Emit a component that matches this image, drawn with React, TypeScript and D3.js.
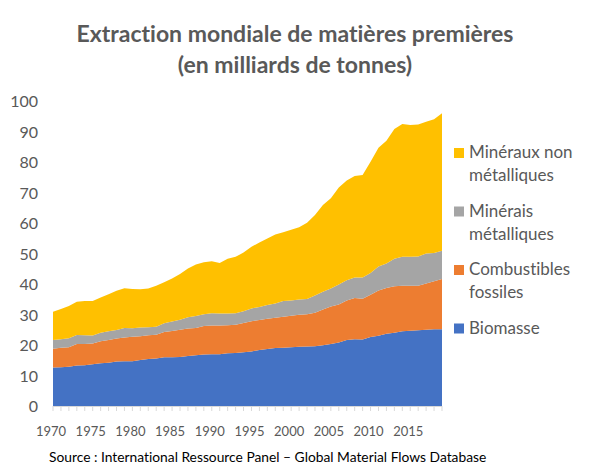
import React, {useEffect, useRef} from "react";
import * as d3 from "d3";

const years = d3.range(1970, 2020);

const biomasse = [
	12.6, 12.7, 12.9, 13.3, 13.4, 13.7, 14.0, 14.2, 14.6, 14.7,
	14.7, 15.1, 15.4, 15.6, 16.0, 16.0, 16.1, 16.4, 16.6, 16.9,
	17.0, 17.0, 17.3, 17.4, 17.6, 17.9, 18.4, 18.7, 19.0, 19.1,
	19.3, 19.4, 19.5, 19.6, 19.9, 20.3, 20.8, 21.6, 21.9, 21.8,
	22.6, 23.0, 23.7, 24.0, 24.5, 24.7, 24.8, 25.0, 25.2, 25.2,
];

const combustibles = [
	6.2, 6.4, 6.4, 7.0, 6.9, 6.8, 7.2, 7.4, 7.5, 7.8,
	8.0, 7.8, 7.8, 7.8, 8.3, 8.6, 8.9, 9.0, 9.0, 9.3,
	9.4, 9.4, 9.2, 9.2, 9.6, 9.9, 9.8, 9.9, 9.9, 10.2,
	10.3, 10.5, 10.6, 11.0, 11.7, 12.3, 12.5, 13.0, 13.5, 13.4,
	13.9, 14.9, 15.0, 15.3, 14.9, 14.7, 14.6, 15.2, 15.7, 16.4,
];

const metalliques = [
	2.8, 2.8, 2.9, 3.0, 2.9, 2.6, 2.8, 2.9, 2.8, 3.1,
	2.8, 2.8, 2.6, 2.6, 2.8, 3.1, 3.3, 3.7, 3.9, 3.9,
	4.0, 3.9, 3.8, 3.8, 3.9, 4.2, 4.3, 4.5, 4.7, 5.1,
	5.0, 5.0, 5.0, 5.6, 5.9, 5.9, 6.5, 6.6, 6.7, 6.9,
	7.1, 7.8, 8.0, 9.0, 9.5, 9.5, 9.6, 9.8, 9.3, 9.3,
];

const nonMetalliques = [
	9.3, 9.9, 10.6, 10.9, 11.2, 11.3, 11.6, 12.1, 12.9, 13.0,
	12.9, 12.6, 12.7, 13.4, 13.5, 14.1, 15.0, 16.0, 16.9, 17.0,
	17.1, 16.6, 18.0, 18.5, 19.2, 20.2, 21.1, 21.8, 22.6, 22.6,
	23.2, 23.7, 25.0, 26.4, 28.4, 29.6, 31.8, 32.7, 33.3, 33.6,
	36.5, 39.0, 40.3, 42.5, 43.6, 43.2, 43.3, 43.2, 43.8, 45.1,
];

const seriesKeys = ["biomasse", "combustibles", "metalliques", "nonMetalliques"];
const seriesColors = ["#4472C4", "#ED7D31", "#A5A5A5", "#FFC000"];

// legend is listed top to bottom, i.e. reverse of the stack
const legendLabels = [
	["Minéraux non", "métalliques"],
	["Minérais", "métalliques"],
	["Combustibles", "fossiles"],
	["Biomasse"],
];
const legendColors = ["#FFC000", "#A5A5A5", "#ED7D31", "#4472C4"];

const yTicks = d3.range(0, 101, 10);
const xLabelYears = d3.range(1970, 2020, 5);

const FONT = "Lato, 'Open Sans', sans-serif";
const TEXT_GREY = "#595959";

const App: React.FC = () => {
	const svgRef = useRef<SVGSVGElement>(null);
	const width = 591;
	const height = 475;

	useEffect(() => {
		document.body.style.margin = "0";
		const svg = d3.select(svgRef.current);
		svg.selectAll("*").remove();
		svg.style("font-variant-ligatures", "none");

		const table = years.map((year, i) => ({
			year,
			biomasse: biomasse[i],
			combustibles: combustibles[i],
			metalliques: metalliques[i],
			nonMetalliques: nonMetalliques[i],
		}));

		const x = d3.scaleLinear().domain([1970, 2019]).range([53, 442]);
		const y = d3.scaleLinear().domain([0, 100]).range([406, 101]);

		const stack = d3.stack<any>().keys(seriesKeys);
		const layers = stack(table);

		const area = d3
			.area<any>()
			.x((d) => x(d.data.year))
			.y0((d) => y(d[0]))
			.y1((d) => y(d[1]));

		svg
			.append("g")
			.selectAll("path")
			.data(layers)
			.enter()
			.append("path")
			.attr("d", area)
			.attr("fill", (_, i) => seriesColors[i]);

		// x axis line + ticks
		const axis = svg.append("g");
		axis
			.append("line")
			.attr("x1", x(1970))
			.attr("x2", x(2019))
			.attr("y1", y(0) + 0.5)
			.attr("y2", y(0) + 0.5)
			.attr("stroke", "#D9D9D9")
			.attr("stroke-width", 1);
		axis
			.selectAll(".tick")
			.data(years)
			.enter()
			.append("line")
			.attr("x1", (d) => x(d))
			.attr("x2", (d) => x(d))
			.attr("y1", y(0))
			.attr("y2", y(0) + 5)
			.attr("stroke", "#D9D9D9");

		axis
			.selectAll(".xlabel")
			.data(xLabelYears)
			.enter()
			.append("text")
			.attr("x", (d) => x(d) - 2)
			.attr("y", 436)
			.attr("text-anchor", "middle")
			.style("font-family", FONT)
			.style("font-size", "13px")
			.style("fill", TEXT_GREY)
			.text((d) => d);

		// y labels
		svg
			.append("g")
			.selectAll("text")
			.data(yTicks)
			.enter()
			.append("text")
			.attr("x", 38)
			.attr("y", (d) => y(d) + 6)
			.attr("text-anchor", "end")
			.style("font-family", FONT)
			.style("font-size", "16px")
			.style("fill", TEXT_GREY)
			.text((d) => d);

		// Title
		const title = svg
			.append("text")
			.attr("x", 295)
			.attr("text-anchor", "middle")
			.style("font-family", FONT)
			.style("font-size", "23px")
			.style("font-weight", "bold")
			.style("fill", TEXT_GREY);
		title.append("tspan").attr("x", 295).attr("y", 42).text("Extraction mondiale de matières premières");
		title.append("tspan").attr("x", 295).attr("y", 73).text("(en milliards de tonnes)");

		// Legend
		const legend = svg.append("g");
		const items = legend
			.selectAll("g")
			.data(legendLabels)
			.enter()
			.append("g")
			.attr("transform", (_, i) => `translate(454, ${148 + i * 58.5})`);
		items
			.append("rect")
			.attr("width", 10)
			.attr("height", 10)
			.attr("fill", (_, i) => legendColors[i]);
		items
			.append("text")
			.style("font-family", FONT)
			.style("font-size", "17px")
			.style("fill", TEXT_GREY)
			.selectAll("tspan")
			.data((d) => d)
			.enter()
			.append("tspan")
			.attr("x", 15)
			.attr("y", (_, j) => 10 + j * 23)
			.text((d) => d);

		// Source
		svg
			.append("text")
			.attr("x", 49)
			.attr("y", 462)
			.style("font-family", FONT)
			.style("font-size", "13.8px")
			.style("fill", "#000")
			.text("Source : International Ressource Panel – Global Material Flows Database");
	}, []);

	return <svg ref={svgRef} width={width} height={height} style={{display: "block", background: "#fff"}} />;
};

export default App;
